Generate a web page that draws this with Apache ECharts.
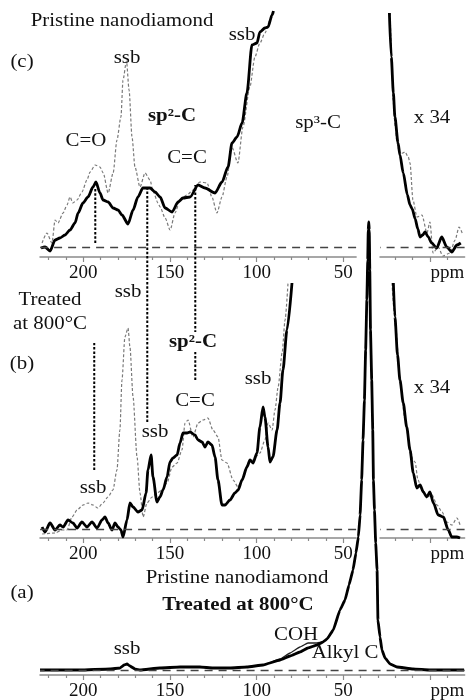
<!DOCTYPE html>
<html><head><meta charset="utf-8">
<script src="https://cdn.jsdelivr.net/npm/echarts@6/dist/echarts.min.js"></script>
<style>html,body{margin:0;padding:0;background:#fff}#c{width:467px;height:700px}</style>
</head><body><div id="c"></div>
<script>
// ===== DATA: [chemical shift (ppm), intensity (a.u. above panel baseline)] =====
// Panel (c) Pristine nanodiamond, x34 expansion
const cSolidL = [[224.4,-1],[222.1,0],[219.2,-4],[216.3,7],[213.5,9],[210.6,12],[207.7,17],[204.8,24],[203.0,34],[200.2,44],[197.3,50],[194.4,60],[192.7,65],[190.4,54],[188.6,47],[185.7,45],[182.8,39],[180.0,37],[177.7,32],[174.2,23],[171.3,37],[168.5,50],[165.6,59],[161.5,59],[158.6,55],[155.7,50],[152.8,39],[148.8,35],[145.3,45],[142.5,49],[138.4,50],[133.8,62],[129.8,59],[124.0,54],[120.0,65],[116.5,80],[114.2,104],[111.3,110],[108.4,124],[105.6,154],[102.7,202],[99.8,204],[98.1,215],[95.2,219],[93.4,220],[91.1,232],[90.3,236]];
const cDashL = [[223.8,4],[221.0,14],[218.1,4],[216.3,27],[214.6,24],[211.7,34],[209.4,42],[207.7,50],[206.0,44],[203.6,47],[200.8,55],[197.9,67],[196.1,75],[193.2,82],[190.4,80],[188.5,74],[185.7,54],[182.8,74],[180.6,107],[178.3,130],[177.1,167],[175.1,186],[173.6,157],[171.9,110],[170.2,80],[167.3,60],[164.4,74],[161.5,67],[159.8,56],[156.9,44],[155.7,40],[152.8,29],[149.9,17],[147.1,34],[144.2,47],[140.2,52],[136.7,57],[132.7,65],[128.6,64],[125.8,50],[122.9,34],[120.0,50],[117.1,70],[114.3,100],[110.8,84],[107.9,120],[103.9,160],[101.0,190],[98.1,204],[95.2,214],[92.3,227],[89.6,236]];
const cSolidR = [[23.4,234],[22.3,190],[21.1,154],[20.2,130],[18.4,104],[17.3,92],[15.4,74],[13.0,52],[11.5,42],[10.2,38],[8.5,28],[7.0,18],[5.7,10],[4.2,12],[2.8,15],[1.0,10],[-1.0,4],[-3.9,-1],[-6.8,10],[-9.7,0],[-12.6,-5],[-15.6,2],[-17.8,4]];
const cDashR = [[23.0,234],[22.0,190],[21.3,147],[20.0,120],[19.0,104],[17.3,92],[15.8,94],[14.4,95],[12.5,90],[11.5,84],[9.8,47],[7.5,30],[4.6,32],[1.7,14],[0.0,25],[-1.8,-6],[-4.7,0],[-7.5,-9],[-11.6,-6],[-14.5,7],[-16.8,20],[-18.6,14]];
// Panel (b) Treated at 800°C, x34 expansion
const bSolidL = [[223.8,2],[222.1,-3],[219.2,6],[216.3,-1],[213.5,4],[211.7,2],[208.8,9],[206.0,6],[203.6,1],[200.8,7],[197.9,2],[195.0,7],[192.1,1],[189.2,9],[187.5,12],[185.7,6],[183.5,-1],[181.7,6],[180.0,2],[178.3,-1],[177.1,-8],[174.8,9],[173.1,26],[171.3,22],[168.5,17],[166.1,19],[163.8,36],[162.7,59],[160.9,74],[159.8,52],[157.5,27],[155.8,32],[154.0,39],[151.7,52],[150.0,67],[148.3,71],[145.9,74],[144.2,86],[142.5,96],[140.2,96],[138.4,97],[135.6,94],[133.8,89],[131.5,87],[129.8,82],[128.1,87],[125.8,84],[124.0,72],[122.3,49],[120.0,24],[118.2,24],[115.4,29],[112.5,36],[110.7,39],[108.4,49],[105.6,62],[103.8,69],[102.1,66],[99.8,76],[98.1,102],[96.3,122],[95.2,112],[93.4,82],[92.3,67],[90.6,72],[88.2,99],[86.5,126],[84.8,159],[82.5,199],[79.6,246]];
const bDashL = [[223.8,-5],[216.3,-4],[212.3,-1],[209.4,-1],[206.5,12],[203.6,19],[200.2,24],[197.3,26],[194.4,24],[191.6,21],[188.7,26],[185.8,32],[182.9,39],[180.6,59],[178.9,99],[177.7,149],[176.0,192],[174.2,201],[173.1,182],[171.3,132],[169.0,72],[167.3,36],[165.5,12],[163.3,26],[160.3,32],[157.5,36],[154.6,39],[151.7,46],[148.8,62],[145.9,66],[143.1,79],[141.3,106],[139.6,109],[136.7,92],[133.8,106],[130.9,109],[128.1,111],[125.2,99],[122.3,92],[120.0,69],[117.1,66],[113.6,49],[110.7,42],[107.9,52],[105.0,66],[102.1,69],[98.1,76],[95.2,89],[93.4,106],[91.1,99],[89.4,119],[87.6,142],[85.3,176],[83.6,209],[81.9,246]];
const bSolidR = [[21.1,246],[20.2,212],[18.7,174],[17.3,149],[15.4,126],[13.4,102],[11.5,79],[9.6,56],[7.6,41],[5.7,44],[3.8,37],[1.9,32],[0.0,37],[-2.0,26],[-4.8,14],[-7.7,12],[-10.6,-1],[-12.6,-8],[-15.4,-8],[-17.4,-9]];
const bDashR = [[21.9,246],[19.6,199],[17.3,149],[14.4,109],[11.5,82],[9.8,69],[8.6,67],[6.9,49],[4.6,39],[1.7,32],[-1.2,34],[-4.1,24],[-7.0,17],[-9.8,7],[-12.7,4],[-15.6,11],[-17.4,4]];
// Panel (a) full spectra
const aTreated = [[225,0],[201.9,0],[184.6,1],[178.8,2],[176.5,5],[174.8,6],[173.1,4],[170.2,1],[167.3,0],[155.8,2],[144.2,3],[132.7,3],[125.2,2],[115.4,2],[105.6,3],[96.3,5],[86.5,10],[80.7,14],[75.0,18],[70.4,22],[65.2,25],[61.7,28],[59.4,31],[55.8,40],[51.9,60],[49.0,70],[46.7,85],[44.4,100],[42.7,117],[41.3,133],[40.3,155],[39.4,190],[38.6,230],[37.8,270],[37.1,320],[36.4,370],[35.9,410],[35.6,440],[35.3,448],[35.0,440],[34.7,400],[34.3,340],[33.6,290],[33.0,240],[32.6,190],[32.0,160],[31.3,127],[30.5,100],[30.0,50],[28.8,33],[27.7,20],[25.9,12],[23.0,6],[19.0,3],[9.8,1],[0.0,0],[-19.7,0]];
const aPristine = [[225,0],[201.9,0],[184.6,1],[178.8,2],[176.5,5],[174.8,6],[173.1,4],[170.2,1],[167.3,0],[155.8,2],[144.2,3],[132.7,3],[125.2,2],[115.4,2],[105.6,3],[96.3,5],[86.5,11],[80.7,17],[75.0,23],[70.4,27],[65.2,27],[61.7,28],[59.4,31],[55.8,40],[51.9,60],[49.0,70],[46.7,85],[44.4,100],[42.7,117],[41.3,133],[40.3,155],[39.4,190],[38.6,230],[37.8,270],[37.1,320],[36.4,370],[35.9,410],[35.6,440],[35.3,448],[35.0,440],[34.7,400],[34.3,340],[33.6,290],[33.0,240],[32.6,190],[32.0,160],[31.3,127],[30.5,100],[30.0,50],[28.8,33],[27.7,20],[25.9,12],[23.0,6],[19.0,3],[9.8,1],[0.0,0],[-19.7,0]];
// Dotted assignment guides: [ppm, from, to] (intensity units of the panel they are drawn in)
const guidesC = [[193.1, 4, 60]];
const guidesB = [[163.1, 107, 341], [135.4, 149, 344], [193.7, 59, 186]];
// Axis ticks / labels (ppm)
const ppmMajor = [200, 150, 100, 50, 0];
const ppmMinor = [220, 210, 190, 180, 170, 160, 140, 130, 120, 110, 90, 80, 70, 60, 40, 30, 20, 10, -10];
const ppmLabels = [200, 150, 100, 50];
const unitLabelAt = -10;
const ppmRange = [-20, 225];
const axisGap = [28.8, 42.6];

// ===== LAYOUT =====
const W = 467, XL = 40, XR = 464.6;
const S = (XR - XL) / (ppmRange[1] - ppmRange[0]);
const px = p => XL + (ppmRange[1] - p) * S;
const FONT = '"Liberation Serif","Times New Roman",serif';
const AX = '#8a8a8a';

const panels = [
  // grid 0: c-left, 1: c-right, 2: b-left, 3: b-right, 4: a
  {lo: axisGap[1], hi: ppmRange[1], axisY: 257, yMin: -10, labels: ppmLabels},
  {lo: ppmRange[0], hi: axisGap[0], axisY: 257, yMin: -10, labels: [unitLabelAt]},
  {lo: axisGap[1], hi: ppmRange[1], axisY: 538, yMin: -9, labels: ppmLabels},
  {lo: ppmRange[0], hi: axisGap[0], axisY: 538, yMin: -9, labels: [unitLabelAt]},
  {lo: ppmRange[0], hi: ppmRange[1], axisY: 675, yMin: -5, labels: ppmLabels.concat([unitLabelAt])}
];

const grid = [], xAxis = [], yAxis = [];
panels.forEach((p, g) => {
  grid.push({left: px(p.hi), right: W - px(p.lo), top: 0, height: p.axisY, containLabel: false, outerBoundsMode: 'none'});
  const inR = v => v >= p.lo && v <= p.hi;
  const base = {gridIndex: g, type: 'value', min: p.lo, max: p.hi, inverse: true, position: 'bottom', splitLine: {show: false}};
  xAxis.push(Object.assign({}, base, {
    axisLine: {show: true, onZero: false, lineStyle: {color: AX, width: 1.5}},
    axisTick: {show: true, customValues: ppmMajor.filter(inR), length: 5, lineStyle: {color: AX, width: 1.2}},
    axisLabel: {show: true, customValues: p.labels.filter(inR), formatter: v => v === unitLabelAt ? 'ppm' : String(v),
      margin: 7, fontFamily: FONT, fontSize: 19, color: '#111'}
  }));
  xAxis.push(Object.assign({}, base, {
    axisLine: {show: false, onZero: false},
    axisTick: {show: true, customValues: ppmMinor.filter(inR), length: 3, lineStyle: {color: AX, width: 1.2}},
    axisLabel: {show: false}
  }));
  yAxis.push({gridIndex: g, type: 'value', min: p.yMin, max: p.axisY + p.yMin, show: false});
});

const solidStyle = {color: '#000', width: 2.8};
const dashStyle = {color: '#7a7a7a', width: 1.2, type: [3, 2]};
const baseLine = {silent: true, symbol: ['none', 'none'], label: {show: false}, animation: false,
  lineStyle: {color: '#444', width: 1.4, type: [8, 6]}, emphasis: {disabled: true}, data: [{yAxis: 0}]};

function ser(data, g, style, extra) {
  return Object.assign({type: 'line', data: data, xAxisIndex: 2 * g, yAxisIndex: g, symbol: 'none', showSymbol: false,
    silent: true, animation: false, smooth: 0.25, smoothMonotone: 'x', lineStyle: style, emphasis: {disabled: true}}, extra || {});
}
function guide(gd, g) {
  return ser([[gd[0], gd[1]], [gd[0], gd[2]]], g, {color: '#000', width: 2, type: [2.5, 1.8]}, {smooth: false, z: 5});
}

const series = [
  ser(cDashL, 0, dashStyle, {markLine: baseLine}),
  ser(cDashR, 1, dashStyle, {markLine: baseLine}),
  ser(cSolidL, 0, solidStyle),
  ser(cSolidR, 1, solidStyle),
  ser(bDashL, 2, dashStyle, {markLine: baseLine}),
  ser(bDashR, 3, dashStyle, {markLine: baseLine}),
  ser(bSolidL, 2, solidStyle),
  ser(bSolidR, 3, solidStyle),
  ser(aPristine, 4, {color: '#222', width: 1.3}, {smooth: 0.1, markLine: baseLine}),
  ser(aTreated, 4, {color: '#000', width: 2.8}, {smooth: 0.1})
];
guidesC.forEach(gd => series.push(guide(gd, 0)));
guidesB.forEach(gd => series.push(guide(gd, 2)));

function T(text, x, y, bold, bg) {
  const st = {text: text, x: 0, y: 0, font: (bold ? 'bold ' : '') + '18px ' + FONT, fill: '#111', align: 'center', verticalAlign: 'middle'};
  if (bg) { st.backgroundColor = '#fff'; st.padding = [1, 2]; }
  return {type: 'text', x: x, y: y, scaleX: 1.16, z: 100, silent: true, style: st};
}
const graphic = [
  T('Pristine nanodiamond', 122, 21), T('(c)', 22, 62), T('ssb', 127, 58), T('ssb', 242, 35),
  T('sp²-C', 172, 116, true), T('C=O', 86, 141), T('C=C', 187, 158), T('sp³-C', 318, 123), T('x 34', 432, 118),
  T('Treated', 50, 300), T('at 800°C', 50, 324), T('ssb', 128, 292), T('(b)', 22, 364),
  T('sp²-C', 193, 342, true, true), T('C=C', 195, 401), T('ssb', 155, 432), T('ssb', 258, 379),
  T('x 34', 432, 388), T('ssb', 93, 488),
  T('Pristine nanodiamond', 237, 578), T('Treated at 800°C', 238, 605, true), T('(a)', 22, 593),
  T('ssb', 127, 649), T('COH', 296, 635), T('Alkyl C', 345, 653)
];

const chart = echarts.init(document.getElementById('c'), null, {renderer: 'canvas'});
chart.setOption({animation: false, backgroundColor: '#fff', grid, xAxis, yAxis, series, graphic});
</script>
</body></html>
